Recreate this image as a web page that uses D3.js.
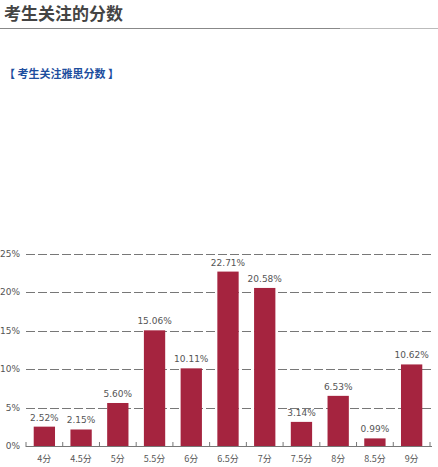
<!DOCTYPE html>
<html><head><meta charset="utf-8">
<script src="https://cdn.jsdelivr.net/npm/d3@7"></script>
<style>body{margin:0;background:#fff;font-family:"Noto Sans CJK SC",sans-serif;}</style>
</head><body>
<svg id="c" width="438" height="467"></svg>
<script>
var categories = ['4分','4.5分','5分','5.5分','6分','6.5分','7分','7.5分','8分','8.5分','9分'];
var values = [2.52, 2.15, 5.60, 15.06, 10.11, 22.71, 20.58, 3.14, 6.53, 0.99, 10.62];
var yTicks = [0, 5, 10, 15, 20, 25];

var svg = d3.select('#c');
svg.append('text').attr('x', 4).attr('y', 20).attr('font-size', 17).attr('font-weight', 'bold')
  .attr('fill', '#444').text('考生关注的分数');
svg.append('line').attr('x1', 0).attr('x2', 340).attr('y1', 28.5).attr('y2', 28.5).attr('stroke', '#888');
svg.append('line').attr('x1', 340).attr('x2', 438).attr('y1', 28.5).attr('y2', 28.5).attr('stroke', '#bbb');
svg.append('text').attr('x', 4).attr('y', 78).attr('font-size', 11).attr('font-weight', 'bold')
  .attr('fill', '#1d4e9e').text('【 考生关注雅思分数 】');

var x = d3.scaleBand().domain(categories).range([26, 430]).paddingInner(0.42).paddingOuter(0.21);
var y = d3.scaleLinear().domain([0, 25]).range([446, 254]);

var g = svg.append('g');
g.selectAll('.grid').data(yTicks.slice(1)).enter().append('line')
  .attr('x1', 26).attr('x2', 432).attr('y1', function(d) { return Math.round(y(d)) + 0.5; })
  .attr('y2', function(d) { return Math.round(y(d)) + 0.5; })
  .attr('stroke', '#777').attr('stroke-dasharray', '9,3');
g.selectAll('.yl').data(yTicks).enter().append('text')
  .attr('x', 20).attr('y', function(d) { return y(d) + 3; }).attr('text-anchor', 'end')
  .attr('font-size', 9).attr('fill', '#555').attr('font-family', 'DejaVu Sans')
  .text(function(d) { return d + '%'; });

g.selectAll('rect').data(values).enter().append('rect')
  .attr('x', function(d, i) { return x(categories[i]); })
  .attr('width', x.bandwidth())
  .attr('y', function(d) { return y(d); })
  .attr('height', function(d) { return y(0) - y(d); })
  .attr('fill', '#a5243f');
g.selectAll('.vl').data(values).enter().append('text')
  .attr('x', function(d, i) { return x(categories[i]) + x.bandwidth() / 2; })
  .attr('y', function(d) { return y(d) - 6; }).attr('text-anchor', 'middle')
  .attr('font-size', 9).attr('fill', '#555').attr('font-family', 'DejaVu Sans')
  .text(function(d) { return d.toFixed(2) + '%'; });

g.append('line').attr('x1', 26).attr('x2', 432).attr('y1', 446.5).attr('y2', 446.5).attr('stroke', '#777');
var step = x.step();
g.selectAll('.tk').data(d3.range(categories.length + 1)).enter().append('line')
  .attr('x1', function(i) { return 26 + i * (404 / 11); }).attr('x2', function(i) { return 26 + i * (404 / 11); })
  .attr('y1', 442).attr('y2', 447).attr('stroke', '#777');
g.selectAll('.xl').data(categories).enter().append('text')
  .attr('x', function(d) { return x(d) + x.bandwidth() / 2; }).attr('y', 462)
  .attr('text-anchor', 'middle').attr('font-size', 9).attr('fill', '#555').text(function(d) { return d; });
</script>
</body></html>
